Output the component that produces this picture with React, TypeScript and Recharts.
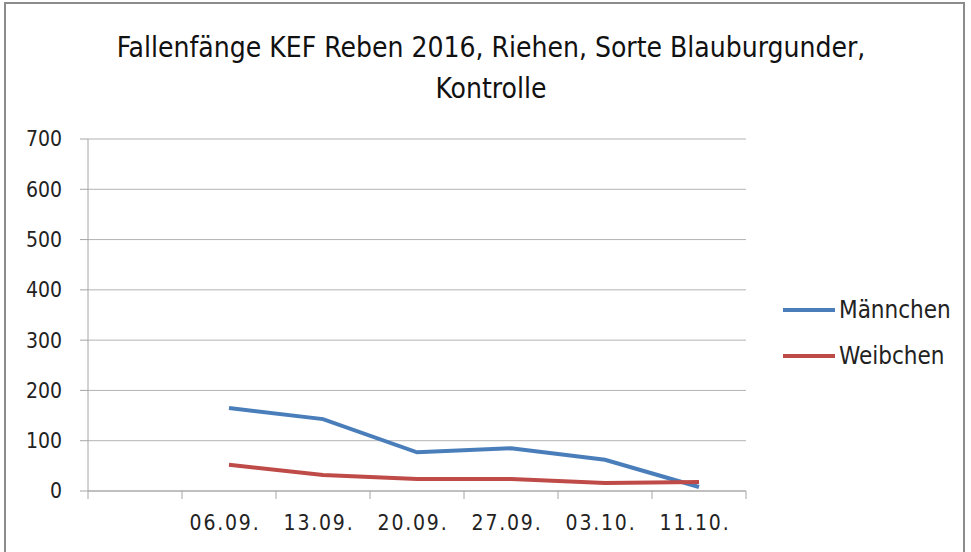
import { LineChart, Line, XAxis, YAxis, CartesianGrid } from 'recharts';

// Fangdaten (first category is an empty slot, as in the original sheet)
const DATES = ['', '06.09.', '13.09.', '20.09.', '27.09.', '03.10.', '11.10.'];
const MAENNCHEN: (number | null)[] = [null, 165, 143, 77, 85, 62, 8];
const WEIBCHEN: (number | null)[] = [null, 52, 32, 24, 24, 16, 18];
const Y_TICKS = [0, 100, 200, 300, 400, 500, 600, 700];

const SERIES = [
  { key: 'Männchen', values: MAENNCHEN, color: '#4a7ebb' },
  { key: 'Weibchen', values: WEIBCHEN, color: '#be4b48' },
];

const FONT = '"DejaVu Sans Condensed", "Liberation Sans", sans-serif';
const AXIS_GREY = '#a6a6a6';

const data = DATES.map((date, i) => {
  const row: any = { date };
  SERIES.forEach((s) => {
    row[s.key] = s.values[i];
  });
  return row;
});

const BAND = (746 - 88) / DATES.length;

// tick marks sit between categories, labels in the middle
function DateTick(props: any) {
  const { x, y, payload, index } = props;
  const left = x - BAND / 2;
  return (
    <g>
      <line x1={left} y1={y} x2={left} y2={y + 8} stroke={AXIS_GREY} />
      {index === DATES.length - 1 && (
        <line x1={x + BAND / 2} y1={y} x2={x + BAND / 2} y2={y + 8} stroke={AXIS_GREY} />
      )}
      <text x={x - 4} y={y + 39} textAnchor="middle" fontSize={21} letterSpacing={1.8} fill="#222" fontFamily={FONT}>
        {payload.value}
      </text>
    </g>
  );
}

function LegendBox() {
  return (
    <div style={{ fontFamily: FONT, fontSize: 24, color: '#222' }}>
      {SERIES.map((s) => (
        <div key={s.key} style={{ display: 'flex', alignItems: 'center', height: 46 }}>
          <span style={{ display: 'inline-block', width: 52, height: 4, background: s.color, marginRight: 4 }} />
          {s.key}
        </div>
      ))}
    </div>
  );
}

export default function App() {
  return (
    <div style={{ position: 'absolute', left: 0, top: 0, width: 971, height: 552, background: '#fff', overflow: 'hidden' }}>
      <div
        style={{
          position: 'absolute',
          left: 4,
          top: 2,
          width: 961,
          height: 570,
          border: '2px solid #8c8c8c',
          boxSizing: 'border-box',
        }}
      />
      <div
        style={{
          position: 'absolute',
          left: 0,
          top: 27,
          width: 982,
          textAlign: 'center',
          fontFamily: FONT,
          fontSize: 28,
          lineHeight: '41px',
          color: '#111',
        }}
      >
        Fallenfänge KEF Reben 2016, Riehen, Sorte Blauburgunder,
        <br />
        Kontrolle
      </div>
      <LineChart width={971} height={552} data={data} margin={{ top: 139, right: 225, left: 28, bottom: 0 }}>
        <CartesianGrid vertical={false} stroke="#b3b3b3" />
        <XAxis
          dataKey="date"
          scale="band"
          height={61}
          stroke={AXIS_GREY}
          tickLine={false}
          tickSize={0}
          tickMargin={0}
          interval={0}
          tick={<DateTick />}
        />
        <YAxis
          width={60}
          domain={[0, 700]}
          ticks={Y_TICKS}
          stroke={AXIS_GREY}
          tickSize={8}
          tickMargin={18}
          tick={{ fontSize: 21, fill: '#222', fontFamily: FONT }}
        />
        {SERIES.map((s) => (
          <Line
            key={s.key}
            dataKey={s.key}
            stroke={s.color}
            strokeWidth={4}
            dot={false}
            activeDot={false}
            isAnimationActive={false}
          />
        ))}
      </LineChart>
      <div style={{ position: 'absolute', left: 783, top: 287 }}>
        <LegendBox />
      </div>
    </div>
  );
}
